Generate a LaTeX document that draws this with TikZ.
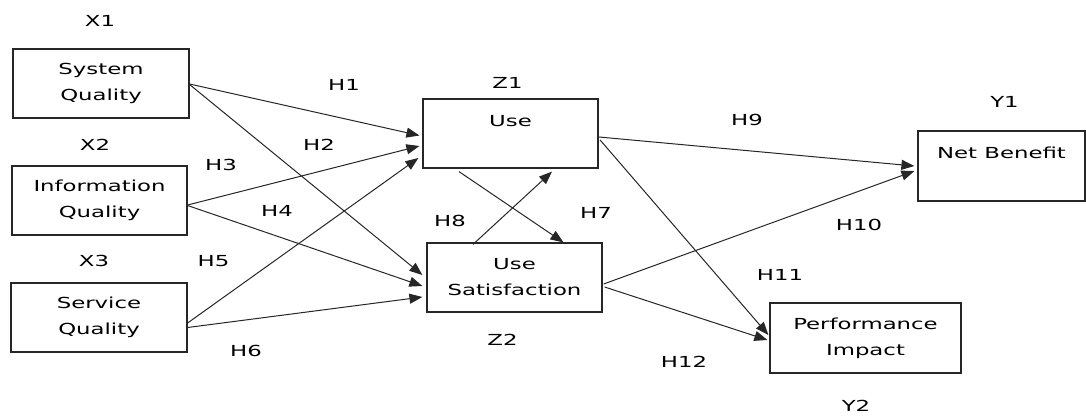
\documentclass[tikz,border=0pt]{standalone}
\usepackage{fontspec}
\newfontfamily\diagfont[FakeStretch=1.5]{DejaVu Sans}
\usetikzlibrary{arrows.meta,calc}
\tikzset{
  box/.style={draw=black!85, line width=1.2pt, minimum width=#1, minimum height=69pt, inner sep=0pt, align=center, font={\diagfont\fontsize{15.2}{26}\selectfont}},
  lbl/.style={inner sep=0pt, font={\diagfont\fontsize{15.2}{18}\selectfont}},
  arr/.style={draw=black!85, line width=1pt, -{Triangle[length=13pt,width=10pt]}}
}
\begin{document}
\begin{tikzpicture}[x=1pt,y=-1pt]
\useasboundingbox (0,0) rectangle (1086,416);
% boxes
\node[box=176pt] (sq) at (101,83.5) {System\\Quality};
\node[box=175pt] (iq) at (99.5,200.5) {Information\\Quality};
\node[box=176pt] (seq) at (99,317.5) {Service\\Quality};
\node[box=175pt] (use) at (510.5,133.5) {Use\\\mbox{}};
\node[box=175pt] (us) at (514.5,277.5) {Use\\Satisfaction};
\node[box=167pt, minimum height=70pt] (nb) at (1001.5,166) {Net Benefit\\\mbox{}};
\node[box=191pt, minimum height=70pt] (pi) at (865.5,338) {Performance\\Impact};
% labels
\node[lbl] (x1) at (100,20.5) {X1};
\node[lbl] (x2) at (95,145) {X2};
\node[lbl] (x3) at (94,261) {X3};
\node[lbl] (z1) at (507.5,83) {Z1};
\node[lbl] (z2) at (502.5,339.5) {Z2};
\node[lbl] (y1) at (1004.5,102) {Y1};
\node[lbl] (y2) at (856,405.5) {Y2};
\node[lbl] (h1) at (344,84.5) {H1};
\node[lbl] (h2) at (319,145) {H2};
\node[lbl] (h3) at (221,165) {H3};
\node[lbl] (h4) at (277,210.5) {H4};
\node[lbl] (h5) at (213.5,261) {H5};
\node[lbl] (h6) at (246,351) {H6};
\node[lbl] (h7) at (596,212.5) {H7};
\node[lbl] (h8) at (450,221) {H8};
\node[lbl] (h9) at (747,119.5) {H9};
\node[lbl] (h10) at (859,224.5) {H10};
\node[lbl] (h11) at (780,274.5) {H11};
\node[lbl] (h12) at (684,361.5) {H12};
% connectors
\draw[arr] ($(sq.east)+(0,0.5)$) -- ($(use.west)+(-3,2)$);
\draw[arr] ($(sq.east)+(0,1)$) -- ($(us.west)+(-4,-2.5)$);
\draw[arr] ($(iq.east)+(0,4.5)$) -- ($(use.west)+(-3,12.5)$);
\draw[arr] ($(iq.east)+(0,5)$) -- ($(us.west)+(-4,8.5)$);
\draw[arr] ($(seq.east)+(0,5.5)$) -- ($(use.west)+(-4,24.5)$);
\draw[arr] ($(seq.east)+(0,10)$) -- ($(us.west)+(-4,19.5)$);
\draw[arr] ($(use.south)+(-51.5,3)$) -- ($(us.north)+(49,0)$);
\draw[arr] ($(us.north)+(-41.5,2)$) -- ($(use.south)+(41.5,3)$);
\draw[arr] ($(use.east)+(0.5,3.5)$) -- ($(nb.west)+(-3,0)$);
\draw[arr] ($(us.east)+(1,6.5)$) -- ($(nb.west)+(-3,5)$);
\draw[arr] ($(use.east)+(1.5,6.5)$) -- ($(pi.west)+(-1,-3)$);
\draw[arr] ($(us.east)+(2,9.5)$) -- ($(pi.west)+(-2,2)$);
\end{tikzpicture}
\end{document}
